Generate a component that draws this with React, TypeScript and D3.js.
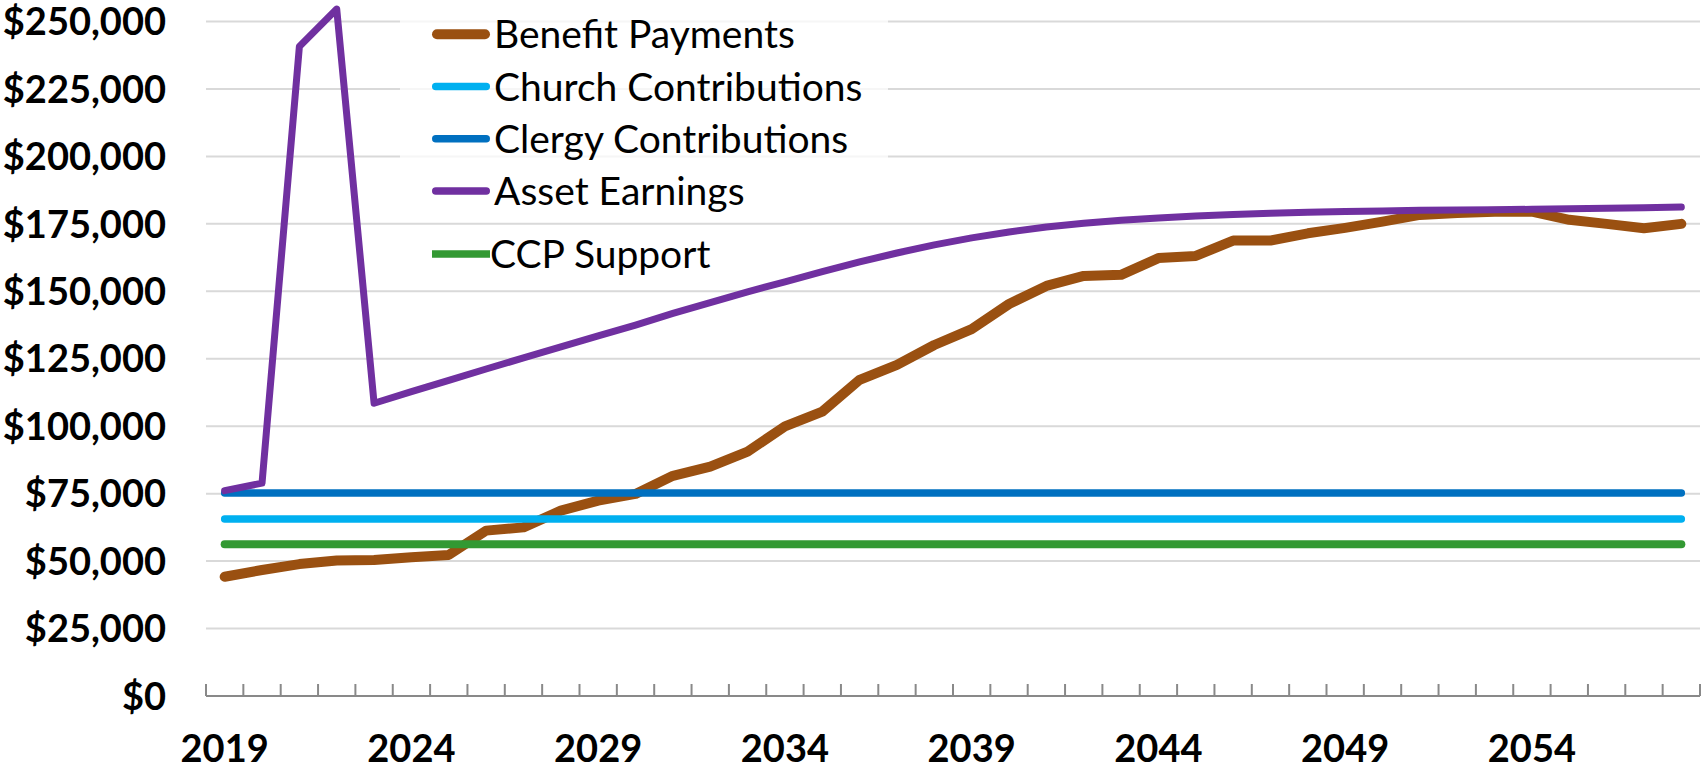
import { useEffect, useRef } from 'react'
import * as d3 from 'd3'

const years = [
  2019, 2020, 2021, 2022, 2023, 2024, 2025, 2026, 2027, 2028,
  2029, 2030, 2031, 2032, 2033, 2034, 2035, 2036, 2037, 2038,
  2039, 2040, 2041, 2042, 2043, 2044, 2045, 2046, 2047, 2048,
  2049, 2050, 2051, 2052, 2053, 2054, 2055, 2056, 2057, 2058,
]

const yearLabels = [2019, 2024, 2029, 2034, 2039, 2044, 2049, 2054]

const yTicks = [0, 25000, 50000, 75000, 100000, 125000, 150000, 175000, 200000, 225000, 250000]

const benefitPayments = [
  44200, 46700, 48900, 50200, 50400, 51400, 52300, 61300, 62500, 68700,
  72400, 74900, 81600, 85000, 90600, 99900, 105400, 117200, 122700, 130100,
  136000, 145300, 152000, 155700, 156100, 162300, 163100, 168800, 168800, 171500,
  173500, 175800, 178300, 179000, 179500, 179500, 176500, 175000, 173400, 175000,
]

const churchContributions = [
  65600, 65600, 65600, 65600, 65600, 65600, 65600, 65600, 65600, 65600,
  65600, 65600, 65600, 65600, 65600, 65600, 65600, 65600, 65600, 65600,
  65600, 65600, 65600, 65600, 65600, 65600, 65600, 65600, 65600, 65600,
  65600, 65600, 65600, 65600, 65600, 65600, 65600, 65600, 65600, 65600,
]

const clergyContributions = [
  75200, 75200, 75200, 75200, 75200, 75200, 75200, 75200, 75200, 75200,
  75200, 75200, 75200, 75200, 75200, 75200, 75200, 75200, 75200, 75200,
  75200, 75200, 75200, 75200, 75200, 75200, 75200, 75200, 75200, 75200,
  75200, 75200, 75200, 75200, 75200, 75200, 75200, 75200, 75200, 75200,
]

const assetEarnings = [
  76100, 78900, 240700, 254600, 108500, 112800, 117000, 121200, 125300, 129400,
  133500, 137500, 141800, 145800, 149800, 153500, 157300, 160900, 164200, 167200,
  169800, 172000, 173800, 175200, 176300, 177200, 177900, 178500, 178900, 179300,
  179600, 179800, 180000, 180100, 180200, 180400, 180600, 180800, 181000, 181200,
]

const ccpSupport = [
  56200, 56200, 56200, 56200, 56200, 56200, 56200, 56200, 56200, 56200,
  56200, 56200, 56200, 56200, 56200, 56200, 56200, 56200, 56200, 56200,
  56200, 56200, 56200, 56200, 56200, 56200, 56200, 56200, 56200, 56200,
  56200, 56200, 56200, 56200, 56200, 56200, 56200, 56200, 56200, 56200,
]

interface Series {
  name: string
  values: number[]
  color: string
  width: number
  cap: string
}

const series: Series[] = [
  { name: 'Benefit Payments', values: benefitPayments, color: '#9a5011', width: 10, cap: 'round' },
  { name: 'Church Contributions', values: churchContributions, color: '#00b0f0', width: 7.5, cap: 'round' },
  { name: 'Clergy Contributions', values: clergyContributions, color: '#0070c0', width: 7.5, cap: 'round' },
  { name: 'Asset Earnings', values: assetEarnings, color: '#7030a0', width: 7, cap: 'round' },
  { name: 'CCP Support', values: ccpSupport, color: '#339933', width: 8, cap: 'butt' },
]

const W = 1704
const H = 768

export default function App() {
  const svgRef = useRef<SVGSVGElement>(null)

  useEffect(() => {
    if (!svgRef.current) return
    const svg = d3.select(svgRef.current)
    svg.selectAll('*').remove()

    const left = 206
    const right = 1700
    const top = 21.5
    const bottom = 696

    const x = d3.scaleBand<number>().domain(years).range([left, right]).padding(0)
    const cx = (yr: number) => (x(yr) ?? 0) + x.bandwidth() / 2
    const y = d3.scaleLinear().domain([0, 250000]).range([bottom, top])

    const font = 'Lato, Carlito, Calibri, sans-serif'

    // gridlines
    svg.append('g')
      .selectAll('line')
      .data(yTicks.filter(t => t > 0))
      .join('line')
      .attr('x1', left)
      .attr('x2', right)
      .attr('y1', d => y(d))
      .attr('y2', d => y(d))
      .attr('stroke', '#d9d9d9')
      .attr('stroke-width', 2)

    // legend backdrop (semi-transparent, gridlines show faintly)
    svg.append('rect')
      .attr('x', 400)
      .attr('y', 0)
      .attr('width', 488)
      .attr('height', 212)
      .attr('fill', '#ffffff')
      .attr('opacity', 0.75)

    // x axis line and ticks
    svg.append('line')
      .attr('x1', left)
      .attr('x2', right)
      .attr('y1', bottom)
      .attr('y2', bottom)
      .attr('stroke', '#898989')
      .attr('stroke-width', 2)

    const boundaries = years.map(yr => x(yr) ?? 0).concat([right])
    svg.append('g')
      .selectAll('line')
      .data(boundaries)
      .join('line')
      .attr('x1', d => d)
      .attr('x2', d => d)
      .attr('y1', bottom)
      .attr('y2', bottom - 12)
      .attr('stroke', '#898989')
      .attr('stroke-width', 2)

    // y labels
    svg.append('g')
      .selectAll('text')
      .data(yTicks)
      .join('text')
      .attr('x', 166)
      .attr('y', d => y(d))
      .attr('dy', '0.36em')
      .attr('text-anchor', 'end')
      .attr('font-family', font)
      .attr('font-weight', 700)
      .attr('font-size', 38)
      .attr('fill', '#000')
      .text(d => d3.format('$,')(d))

    // x labels
    svg.append('g')
      .selectAll('text')
      .data(yearLabels)
      .join('text')
      .attr('x', d => cx(d))
      .attr('y', 762)
      .attr('text-anchor', 'middle')
      .attr('font-family', font)
      .attr('font-weight', 700)
      .attr('font-size', 38)
      .attr('fill', '#000')
      .text(d => String(d))

    // series lines
    const line = d3.line<number>()
      .x((_, i) => cx(years[i]))
      .y(d => y(d))

    svg.append('g')
      .selectAll('path')
      .data(series)
      .join('path')
      .attr('d', d => line(d.values))
      .attr('fill', 'none')
      .attr('stroke', d => d.color)
      .attr('stroke-width', d => d.width)
      .attr('stroke-linecap', 'round')
      .attr('stroke-linejoin', 'round')

    // legend
    const legend = svg.append('g')
    series.forEach((s, i) => {
      const ly = 34.3 + i * 52.2 + (i === 4 ? 11 : 0)
      const row = legend.append('g').attr('transform', `translate(0,${ly})`)
      const w = i === 0 ? 10 : 7.5
      const inset = s.cap === 'round' ? w / 2 : 0
      row.append('line')
        .attr('x1', 432 + inset)
        .attr('x2', 490 - inset)
        .attr('y1', 0)
        .attr('y2', 0)
        .attr('stroke', s.color)
        .attr('stroke-width', w)
        .attr('stroke-linecap', s.cap)
      row.append('text')
        .attr('x', i === 4 ? 490 : 494)
        .attr('y', 0)
        .attr('dy', '0.36em')
        .attr('font-family', font)
        .attr('font-size', 39)
        .attr('fill', '#000')
        .text(s.name)
    })
  }, [])

  return (
    <div style={{ position: 'absolute', left: 0, top: 0 }}>
      <svg ref={svgRef} width={W} height={H} style={{ display: 'block', background: '#fff' }} />
    </div>
  )
}
